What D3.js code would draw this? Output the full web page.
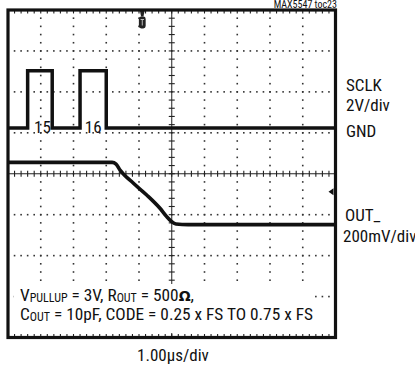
<!DOCTYPE html>
<html>
<head>
<meta charset="utf-8">
<script src="https://cdn.jsdelivr.net/npm/d3@7"></script>
<style>
  html, body { margin: 0; padding: 0; background: #fff; }
  svg { display: block; }
  text { font-family: "Liberation Sans Narrow", "Arial Narrow", "Roboto Condensed", sans-serif; fill: #111; }
</style>
</head>
<body>
<svg id="scope" width="415" height="375"></svg>
<script>
// Time axis: 1.00 µs/div, 10 divisions, trigger reference at centre
const timeDomain = [-5, 5];
const divDomain = [-4, 4];

// SCLK channel (2 V/div), ground marker offset in divisions
const sclkScale = 2;
const sclkOffsetDiv = 1.117;
const sclkTime  = [-5, -4.4, -4.4, -3.65, -3.65, -2.8, -2.8, -2.0, -2.0, 5];
const sclkVolts = [0, 0, 2.8, 2.8, 0, 0, 2.8, 2.8, 0, 0];

// Pulse numbers written inside the clock pulses
const pulseLabels = ["15", "16"];
const pulseLabelTime = [-3.95, -2.4];

// OUT_ channel (200 mV/div), relative to its reference marker
const outScale = 200;
const outOffsetDiv = -0.438;
const outTime = [-5, -1.82, -1.70, -1.58, -1.17, -0.765, -0.36, -0.155, 0, 0.13, 0.5, 5];
const outMillivolts = [143, 143, 135, 106, 41, -16, -81, -122, -147, -158, -161, -161];

// Trigger position (µs)
const triggerTime = -0.9;

// Side and bottom annotations
const channelLabels = ["SCLK", "2V/div", "GND", "OUT_", "200mV/div"];
const timebaseLabel = "1.00\u03BCs/div";
const fileLabel = "MAX5547 toc23";

const svg = d3.select("#scope");
const x = d3.scaleLinear().domain(timeDomain).range([8, 335.5]);
const y = d3.scaleLinear().domain(divDomain).range([337.5, 10]);

const g = svg.append("g");

// Graticule dots on each non-centre division line
const majorT = d3.range(-4, 5).filter(d => d !== 0);
const majorV = d3.range(-3, 4).filter(d => d !== 0);
const minorT = d3.range(-25, 26).map(d => d * 0.2);
const minorV = d3.range(-20, 21).map(d => d * 0.2);

const dots = [];
majorT.forEach(t => minorV.forEach(v => { if (Math.abs(v) < 3.99) dots.push([t, v]); }));
majorV.forEach(v => minorT.forEach(t => { if (Math.abs(t) < 4.99) dots.push([t, v]); }));
g.append("g").selectAll("rect").data(dots).join("rect")
  .attr("x", d => x(d[0]) - 0.8).attr("y", d => y(d[1]) - 0.8)
  .attr("width", 1.6).attr("height", 1.6).attr("fill", "#333");

// Centre axes with minor ticks
g.append("line").attr("x1", x(-5)).attr("x2", x(5)).attr("y1", y(0)).attr("y2", y(0))
  .attr("stroke", "#222").attr("stroke-width", 1);
g.append("line").attr("x1", x(0)).attr("x2", x(0)).attr("y1", y(-4)).attr("y2", y(4))
  .attr("stroke", "#222").attr("stroke-width", 1);
g.append("g").selectAll("line").data(minorT.filter(t => Math.abs(t) < 4.99)).join("line")
  .attr("x1", d => x(d)).attr("x2", d => x(d)).attr("y1", y(0) - 3).attr("y2", y(0) + 3)
  .attr("stroke", "#222").attr("stroke-width", 1.1);
g.append("g").selectAll("line").data(minorV.filter(v => Math.abs(v) < 3.99)).join("line")
  .attr("x1", x(0) - 3).attr("x2", x(0) + 3).attr("y1", d => y(d)).attr("y2", d => y(d))
  .attr("stroke", "#222").attr("stroke-width", 1.1);

// Inward ticks on top and bottom edges
const edgeT = minorT.filter(t => Math.abs(t) < 4.99);
g.append("g").selectAll("line").data(edgeT).join("line")
  .attr("x1", d => x(d)).attr("x2", d => x(d)).attr("y1", y(4)).attr("y2", y(4) + 3.5)
  .attr("stroke", "#222").attr("stroke-width", 1.1);
g.append("g").selectAll("line").data(edgeT).join("line")
  .attr("x1", d => x(d)).attr("x2", d => x(d)).attr("y1", y(-4)).attr("y2", y(-4) - 3.5)
  .attr("stroke", "#222").attr("stroke-width", 1.1);

// Blank panel behind the test-condition note
g.append("rect").attr("x", 14).attr("y", 284).attr("width", 301).attr("height", 49)
  .attr("fill", "#fff");

// Traces
const sclkLine = d3.line()
  .x(i => x(sclkTime[i]))
  .y(i => y(sclkOffsetDiv + sclkVolts[i] / sclkScale));
g.append("path").attr("d", sclkLine(d3.range(sclkTime.length)))
  .attr("fill", "none").attr("stroke", "#111").attr("stroke-width", 3.5)
  .attr("stroke-linejoin", "miter");

const outLine = d3.line()
  .x(i => x(outTime[i]))
  .y(i => y(outOffsetDiv + outMillivolts[i] / outScale))
  .curve(d3.curveMonotoneX);
g.append("path").attr("d", outLine(d3.range(outTime.length)))
  .attr("fill", "none").attr("stroke", "#111").attr("stroke-width", 3.6);

// OUT_ reference marker on the right edge
const my = y(outOffsetDiv);
g.append("path")
  .attr("d", `M${x(5) - 7},${my} L${x(5) - 2},${my - 3.5} L${x(5) - 2},${my + 3.5} Z`)
  .attr("fill", "#111");

// Trigger marker
const tx = x(triggerTime);
g.append("path").attr("d", `M${tx - 2.5},${y(4)} L${tx + 2.5},${y(4)} L${tx + 1.2},${y(4) + 6.5} L${tx - 1.2},${y(4) + 6.5} Z`)
  .attr("fill", "#222");
g.append("rect").attr("x", tx - 3.4).attr("y", y(4) + 6.5).attr("width", 6.8).attr("height", 12)
  .attr("rx", 2.4).attr("fill", "#222");
g.append("path").attr("d", `M${tx - 1.7},${y(4) + 9.5} H${tx + 1.7} M${tx},${y(4) + 9.5} V${y(4) + 15.5}`)
  .attr("stroke", "#bbb").attr("stroke-width", 1).attr("fill", "none");

// Frame
g.append("rect").attr("x", x(-5)).attr("y", y(4)).attr("width", x(5) - x(-5)).attr("height", y(-4) - y(4))
  .attr("fill", "none").attr("stroke", "#111").attr("stroke-width", 3.2);

// Pulse numbers
g.append("g").selectAll("text").data(pulseLabels).join("text")
  .attr("x", (d, i) => x(pulseLabelTime[i])).attr("y", 133.3)
  .attr("text-anchor", "middle").attr("font-size", 17).text(d => d);

// Channel labels on the right
const labelPos = [[346, 90.7], [346, 110.5], [346, 137.3], [345, 220.7], [343, 242]];
svg.append("g").selectAll("text").data(channelLabels).join("text")
  .attr("x", (d, i) => labelPos[i][0]).attr("y", (d, i) => labelPos[i][1])
  .attr("font-size", 17).text(d => d);

// File tag, top right
svg.append("text").attr("x", 337).attr("y", 7.5).attr("text-anchor", "end")
  .attr("font-size", 10).text(fileLabel);

// Test conditions
const cond1 = svg.append("text").attr("x", 20).attr("y", 301).attr("font-size", 17.3);
cond1.append("tspan").text("V");
cond1.append("tspan").attr("font-size", 12).attr("dy", 1).text("PULLUP");
cond1.append("tspan").attr("dy", -1).text(" = 3V, R");
cond1.append("tspan").attr("font-size", 12).attr("dy", 1).text("OUT");
cond1.append("tspan").attr("dy", -1).text(" = 500");
cond1.append("tspan").attr("font-family", "DejaVu Sans").attr("font-weight", "bold").attr("font-size", 14).text("\u03A9");
cond1.append("tspan").text(",");

const cond2 = svg.append("text").attr("x", 20).attr("y", 319.5).attr("font-size", 17.3);
cond2.append("tspan").text("C");
cond2.append("tspan").attr("font-size", 12).attr("dy", 1).text("OUT");
cond2.append("tspan").attr("dy", -1).text(" = 10pF, CODE = 0.25 x FS TO 0.75 x FS");

// Timebase
svg.append("text").attr("x", 173).attr("y", 361).attr("text-anchor", "middle")
  .attr("font-size", 17).text(timebaseLabel);
</script>
</body>
</html>
